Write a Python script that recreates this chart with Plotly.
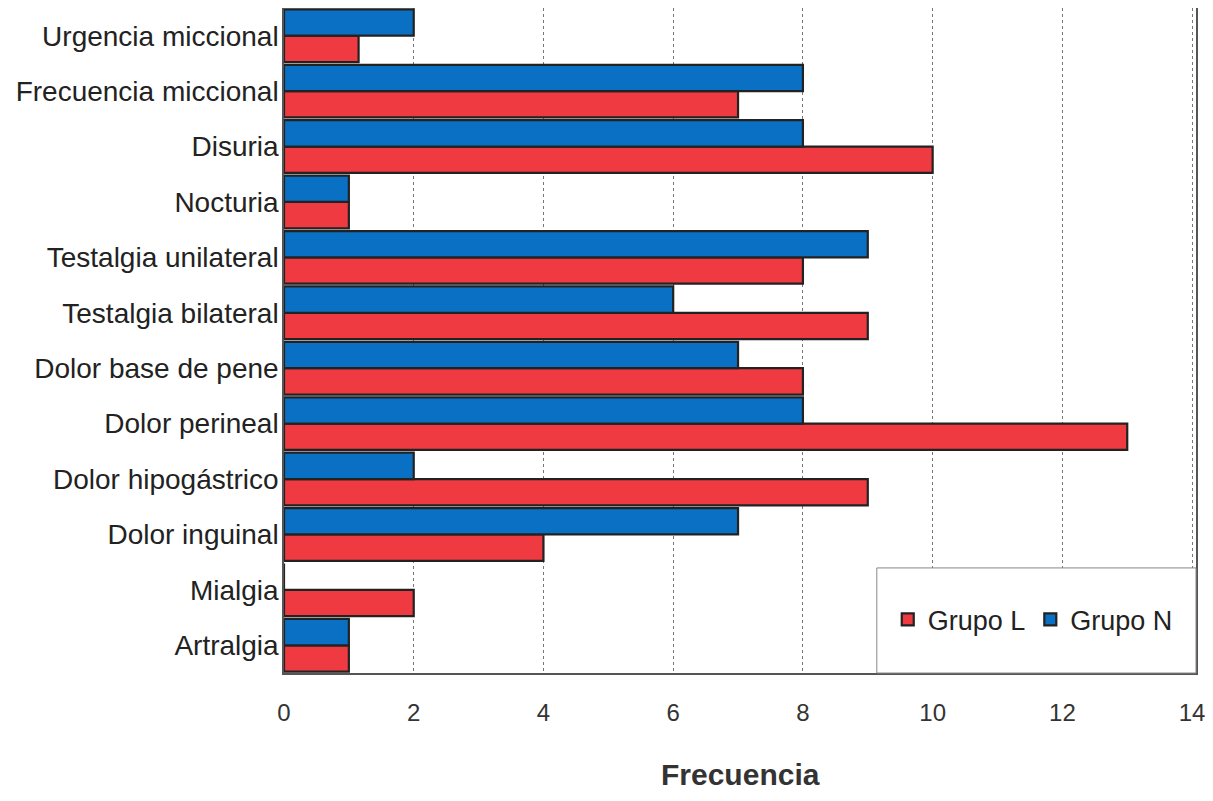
import plotly.graph_objects as go

categories = [
    "Urgencia miccional", "Frecuencia miccional", "Disuria", "Nocturia",
    "Testalgia unilateral", "Testalgia bilateral", "Dolor base de pene",
    "Dolor perineal", "Dolor hipogástrico", "Dolor inguinal", "Mialgia", "Artralgia",
]
grupo_n = [2, 8, 8, 1, 9, 6, 7, 8, 2, 7, 0, 1]
grupo_l = [1.15, 7, 10, 1, 8, 9, 8, 13, 9, 4, 2, 1]
x_ticks = [0, 2, 4, 6, 8, 10, 12, 14]

RED = "#EE3A40"
BLUE = "#0A70C4"
FONT = "Liberation Sans, Arial, sans-serif"

fig = go.Figure()
fig.add_trace(go.Bar(
    y=categories, x=grupo_l, orientation="h", name="Grupo L",
    marker=dict(color=RED, line=dict(color="#222222", width=2.2)),
))
fig.add_trace(go.Bar(
    y=categories, x=grupo_n, orientation="h", name="Grupo N",
    marker=dict(color=BLUE, line=dict(color="#222222", width=2.2)),
))

fig.update_layout(
    width=1205, height=785,
    margin=dict(l=276, r=17, t=0, b=120),
    paper_bgcolor="white", plot_bgcolor="white",
    barmode="group", bargap=0.05, bargroupgap=0.0,
    font=dict(family=FONT, color="#222222"),
    legend=dict(
        orientation="h", x=0.662, y=0.08, xanchor="left", yanchor="middle",
        bgcolor="rgba(0,0,0,0)", font=dict(size=27, color="#222222"),
        itemwidth=30,
    ),
    shapes=[dict(
        type="rect", xref="paper", yref="paper", x0=0.65, x1=1.0, y0=0.0, y1=0.158,
        fillcolor="white", line=dict(color="#888888", width=1), layer="above",
    )],
    annotations=[dict(
        text="<b>Frecuencia</b>", xref="paper", yref="paper", x=0.5, y=0,
        xanchor="center", yanchor="middle", yshift=-101, showarrow=False,
        font=dict(size=30, color="#333333"),
    )],
)
fig.update_xaxes(
    range=[0, 14.06], tickvals=x_ticks, ticktext=[str(v) for v in x_ticks],
    showgrid=True, gridcolor="#777777", griddash="dot", gridwidth=1.2,
    showline=True, mirror=True, linecolor="#555555", linewidth=1.5,
    ticks="outside", ticklen=0, ticklabelstandoff=17, automargin=False,
    tickfont=dict(size=24, color="#333333"), zeroline=False,
)
fig.update_yaxes(
    categoryorder="array", categoryarray=categories[::-1],
    showgrid=False, showline=True, mirror=True, linecolor="#555555", linewidth=1.5,
    ticks="", ticklabelstandoff=-2, tickfont=dict(size=28, color="#222222"),
    range=[-0.5, 11.5], automargin=False,
)

fig.write_html("out.html")
